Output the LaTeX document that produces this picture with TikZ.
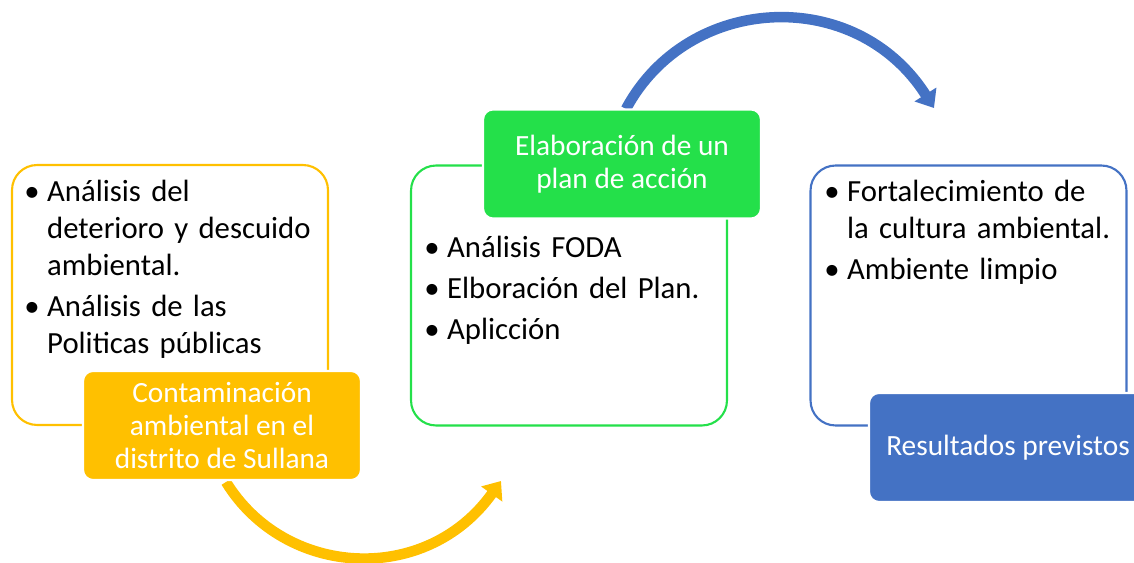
\documentclass[tikz,border=0pt]{standalone}
\usepackage{fontspec}
\setmainfont{Carlito}
\usetikzlibrary{arrows.meta}

\definecolor{amber}{RGB}{255,192,0}
\definecolor{leaf}{RGB}{36,224,74}
\definecolor{ocean}{RGB}{68,114,196}

\newlength{\blabw}\setlength{\blabw}{13pt}
% first line of an item, continuation line, gap between items
\newcommand{\bitem}[1]{\noindent\makebox[\blabw][l]{\textbullet}#1\par}
\newcommand{\bline}[1]{\noindent\hspace*{\blabw}#1\par}
\newcommand{\bgap}{\vspace{2.2pt}}

\tikzset{
	frame/.style={draw=#1, line width=1.2pt, fill=white, rounded corners=0.5cm,
		minimum width=6.32cm, minimum height=5.2cm},
	tag/.style={fill=#1, draw=white, line width=1.2pt, rounded corners=0.2cm,
		minimum width=5.56cm, minimum height=2.18cm, text=white, align=center,
		font=\fontsize{16.7pt}{18.6pt}\selectfont},
	list/.style={anchor=base west, inner sep=0pt, text width=6cm,
		font=\fontsize{17.5pt}{21pt}\selectfont},
	bend/.style={draw=#1, line width=0.21cm, -{Triangle[length=0.32cm,width=0.5cm]}}
}

\begin{document}
\begin{tikzpicture}[x=0.02cm,y=-0.02cm]
		\useasboundingbox (0,0) rectangle (1134,563);
		% outlined boxes
		\node[frame=amber] (probbox) at (170,295) {};
		\node[frame=leaf] (planbox) at (569,295.5) {};
		\node[frame=ocean] (resbox) at (968.5,295.5) {};
		% bullet lists
		\node[list] (problist) at (24,202) {%
			\bitem{Análisis del}\bline{deterioro y descuido}\bline{ambiental.}\bgap
			\bitem{Análisis de las}\bline{Politicas públicas}};
		\node[list] (planlist) at (424,258) {%
			\bitem{Análisis FODA}\bgap
			\bitem{Elboración del Plan.}\bgap
			\bitem{Aplicción}};
		\node[list] (reslist) at (824,202) {%
			\bitem{Fortalecimiento de}\bline{la cultura ambiental.}\bgap
			\bitem{Ambiente limpio}};
		% arcs
		\coordinate (ys) at (226,482);
		\coordinate (ye) at (501,481);
		\coordinate (bs) at (626,109);
		\coordinate (be) at (934,108);
		\draw[bend=amber] (ys) .. controls (285,578) and (426,586) .. (ye);
		\draw[bend=ocean] (bs) .. controls (688,-7) and (856,-15) .. (be);
		% filled tags
		\node[tag=amber] (prob) at (222,425.5) {Contaminación\\ambiental en el\\distrito de Sullana};
		\node[tag=leaf] (plan) at (622,164) {Elaboración de un\\plan de acción};
		\node[tag=ocean] (res) at (1008,447.5) {Resultados previstos};
\end{tikzpicture}
\end{document}
